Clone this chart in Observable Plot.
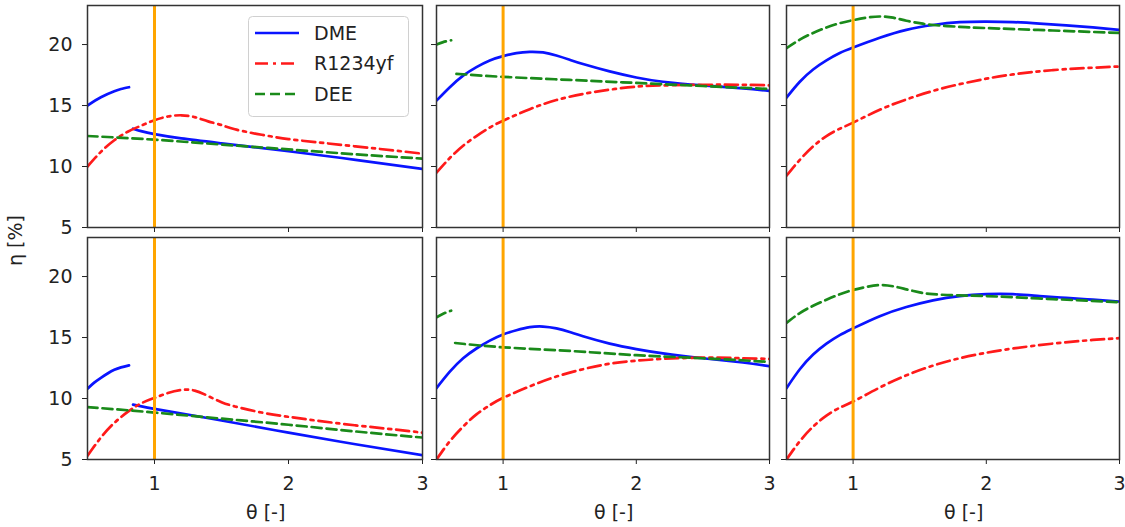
<!DOCTYPE html>
<html><head><meta charset="utf-8">
<script src="https://cdn.jsdelivr.net/npm/d3@7"></script>
<script src="https://cdn.jsdelivr.net/npm/@observablehq/plot@0.6"></script>
<style>
body{margin:0;background:#fff;}
#fig{position:relative;width:1125px;height:527px;overflow:hidden;font-family:"DejaVu Sans",sans-serif;color:#222;background:#fff;}
#fig svg{position:absolute;}
.lab{position:absolute;font-size:19px;white-space:nowrap;line-height:1;}
</style></head><body><div id="fig"></div>
<script>
// ---- data (θ [-], η [%]) ; null breaks a line ----
const seriesNames = ["DME", "R1234yf", "DEE"];
const xTicks = [1, 2, 3];
const yTicks = [5, 10, 15, 20];
const refTheta = [1];

// top row
const dmeA = [[0.5,15.0],[0.6,15.68],[0.7,16.17],[0.75,16.35],[0.81,16.5],[0.82,null],[0.84,13.1],[0.9,12.9],[1.0,12.65],[1.2,12.3],[1.5,11.9],[2.0,11.25],[2.5,10.55],[3.0,9.8]];
const r1234yfA = [[0.5,10.0],[0.6,11.2],[0.7,12.15],[0.8,12.85],[0.9,13.35],[1.0,13.8],[1.1,14.1],[1.2,14.2],[1.3,14.05],[1.4,13.7],[1.5,13.4],[1.6,13.05],[1.8,12.6],[2.0,12.25],[2.2,12.0],[2.5,11.65],[2.8,11.3],[3.0,11.05]];
const deeA = [[0.5,12.5],[1.0,12.2],[1.5,11.8],[2.0,11.4],[2.5,11.0],[3.0,10.65]];

const dmeB = [[0.5,15.4],[0.6,16.5],[0.7,17.45],[0.8,18.15],[0.9,18.7],[1.0,19.05],[1.1,19.3],[1.2,19.4],[1.3,19.35],[1.4,19.1],[1.5,18.75],[1.6,18.4],[1.8,17.8],[2.0,17.3],[2.2,16.95],[2.5,16.65],[2.8,16.4],[3.0,16.2]];
const r1234yfB = [[0.5,9.5],[0.6,10.7],[0.7,11.7],[0.8,12.5],[0.9,13.2],[1.0,13.75],[1.2,14.7],[1.4,15.45],[1.6,15.95],[1.8,16.3],[2.0,16.55],[2.2,16.65],[2.5,16.7],[2.8,16.7],[3.0,16.65]];
const deeB = [[0.5,20.0],[0.55,20.2],[0.61,20.35],[0.63,null],[0.65,17.6],[1.0,17.35],[1.5,17.1],[2.0,16.85],[2.5,16.6],[3.0,16.35]];

const dmeC = [[0.5,15.65],[0.6,16.95],[0.7,17.95],[0.8,18.7],[0.9,19.3],[1.0,19.75],[1.2,20.55],[1.4,21.2],[1.6,21.6],[1.8,21.83],[2.0,21.88],[2.2,21.84],[2.4,21.72],[2.6,21.57],[2.8,21.4],[3.0,21.2]];
const r1234yfC = [[0.5,9.25],[0.6,10.55],[0.7,11.65],[0.8,12.5],[0.9,13.1],[1.0,13.6],[1.2,14.65],[1.4,15.5],[1.6,16.2],[1.8,16.75],[2.0,17.2],[2.2,17.55],[2.5,17.9],[2.8,18.1],[3.0,18.2]];
const deeC = [[0.5,19.7],[0.6,20.4],[0.7,20.95],[0.8,21.4],[0.9,21.75],[1.0,22.0],[1.1,22.2],[1.2,22.3],[1.3,22.2],[1.4,21.95],[1.5,21.75],[1.6,21.6],[1.8,21.45],[2.0,21.35],[2.5,21.15],[3.0,20.95]];

// bottom row
const dmeD = [[0.5,10.8],[0.55,11.3],[0.6,11.7],[0.65,12.05],[0.7,12.35],[0.75,12.55],[0.81,12.72],[0.82,null],[0.84,9.5],[1.0,9.15],[1.5,8.2],[2.0,7.2],[2.5,6.25],[3.0,5.35]];
const r1234yfD = [[0.5,5.3],[0.6,6.8],[0.7,8.0],[0.8,8.9],[0.9,9.6],[1.0,10.05],[1.1,10.45],[1.2,10.7],[1.3,10.65],[1.4,10.2],[1.5,9.7],[1.6,9.35],[1.8,8.85],[2.0,8.5],[2.2,8.2],[2.5,7.8],[2.8,7.45],[3.0,7.2]];
const deeD = [[0.5,9.3],[1.0,8.85],[1.5,8.35],[2.0,7.85],[2.5,7.3],[3.0,6.8]];

const dmeE = [[0.5,10.85],[0.6,12.2],[0.7,13.3],[0.8,14.1],[0.9,14.75],[1.0,15.25],[1.1,15.6],[1.2,15.85],[1.3,15.9],[1.4,15.75],[1.5,15.45],[1.6,15.1],[1.8,14.5],[2.0,14.05],[2.2,13.7],[2.5,13.3],[2.8,12.95],[3.0,12.65]];
const r1234yfE = [[0.5,5.0],[0.6,6.5],[0.7,7.7],[0.8,8.7],[0.9,9.45],[1.0,10.05],[1.2,11.0],[1.4,11.8],[1.6,12.4],[1.8,12.85],[2.0,13.1],[2.2,13.25],[2.5,13.35],[2.8,13.3],[3.0,13.25]];
const deeE = [[0.5,16.65],[0.55,16.95],[0.61,17.2],[0.63,null],[0.64,14.55],[1.0,14.2],[1.5,13.9],[2.0,13.55],[2.5,13.3],[3.0,13.0]];

const dmeF = [[0.5,10.85],[0.6,12.4],[0.7,13.6],[0.8,14.5],[0.9,15.2],[1.0,15.75],[1.2,16.75],[1.4,17.5],[1.6,18.05],[1.8,18.4],[2.0,18.55],[2.2,18.55],[2.4,18.4],[2.6,18.25],[2.8,18.1],[3.0,17.95]];
const r1234yfF = [[0.5,5.0],[0.6,6.5],[0.7,7.7],[0.8,8.6],[0.9,9.25],[1.0,9.75],[1.2,10.9],[1.4,11.9],[1.6,12.7],[1.8,13.3],[2.0,13.75],[2.2,14.1],[2.5,14.5],[2.8,14.8],[3.0,14.95]];
const deeF = [[0.5,16.2],[0.6,17.0],[0.7,17.6],[0.8,18.1],[0.9,18.55],[1.0,18.9],[1.1,19.15],[1.2,19.3],[1.3,19.2],[1.4,18.95],[1.5,18.7],[1.6,18.55],[1.8,18.45],[2.0,18.4],[2.5,18.15],[3.0,17.9]];

// ---- layout & styles ----
const panels = [
  {r:0,c:0,s:[dmeA,r1234yfA,deeA]},{r:0,c:1,s:[dmeB,r1234yfB,deeB]},{r:0,c:2,s:[dmeC,r1234yfC,deeC]},
  {r:1,c:0,s:[dmeD,r1234yfD,deeD]},{r:1,c:1,s:[dmeE,r1234yfE,deeE]},{r:1,c:2,s:[dmeF,r1234yfF,deeF]}
];
const styles = [
  {stroke:"#0a14ff", dash:null},
  {stroke:"#ff1a1a", dash:"13,5,3,5"},
  {stroke:"#1a8a1a", dash:"10,5"}
];
const colL = [87, 436, 786], colW = [335, 333, 333];
const rowT = [5, 237], rowH = 222;
const fig = document.getElementById("fig");

for (const p of panels) {
  const mL = p.c === 0 ? 87 : 10, mR = 6, mT = 5, mB = p.r === 1 ? 69 : 8;
  const W = colW[p.c];
  const marks = [];
  p.s.forEach((data, i) => {
    marks.push(Plot.line(data, {x: d => d[0], y: d => d[1], stroke: styles[i].stroke, strokeWidth: 2.7,
      strokeDasharray: styles[i].dash, curve: "natural", clip: true}));
  });
  marks.push(Plot.ruleX(refTheta, {stroke: "#ffa500", strokeWidth: 3}));
  marks.push(Plot.frame({stroke: "#333", strokeWidth: 1.5}));
  const svg = Plot.plot({
    width: W + mL + mR, height: rowH + mT + mB,
    marginLeft: mL, marginRight: mR, marginTop: mT, marginBottom: mB,
    style: {background: "transparent", fontSize: "19px", fontFamily: "DejaVu Sans, sans-serif", color: "#222", overflow: "visible"},
    x: {domain: [0.5, 3], ticks: xTicks, tickSize: 5, tickPadding: 12, label: null,
        tickFormat: p.r === 1 ? (d => String(d)) : (() => "")},
    y: {domain: [5, 23.2], ticks: yTicks, tickSize: 5, tickPadding: 10, label: null,
        tickFormat: p.c === 0 ? (d => String(d)) : (() => "")},
    marks
  });
  svg.style.left = (colL[p.c] - mL) + "px";
  svg.style.top = (rowT[p.r] - mT) + "px";
  fig.appendChild(svg);
}

// x labels
for (let c = 0; c < 3; c++) {
  const d = document.createElement("div");
  d.className = "lab";
  d.textContent = "θ [-]";
  fig.appendChild(d);
  const w = d.offsetWidth;
  d.style.left = (colL[c] + colW[c] / 2 + 11 - w / 2) + "px";
  d.style.top = "503px";
}
// y label
{
  const d = document.createElement("div");
  d.className = "lab";
  d.textContent = "η [%]";
  fig.appendChild(d);
  const w = d.offsetWidth, h = d.offsetHeight;
  d.style.left = (15 - w / 2) + "px";
  d.style.top = (240 - h / 2) + "px";
  d.style.transform = "rotate(-90deg)";
}
// legend
{
  const lg = d3.select(fig).append("svg")
    .attr("width", 161).attr("height", 102)
    .style("left", "248px").style("top", "16px");
  lg.append("rect").attr("x", 0.5).attr("y", 0.5).attr("width", 160).attr("height", 100)
    .attr("rx", 4).attr("fill", "rgba(255,255,255,0.85)").attr("stroke", "#d0d0d0");
  seriesNames.forEach((n, i) => {
    const cy = 17 + i * 30.5;
    lg.append("line").attr("x1", 7).attr("x2", 51).attr("y1", cy).attr("y2", cy)
      .attr("stroke", styles[i].stroke).attr("stroke-width", 2.7)
      .attr("stroke-dasharray", styles[i].dash);
    lg.append("text").attr("x", 66).attr("y", cy).attr("dy", "0.36em")
      .attr("font-family", "DejaVu Sans, sans-serif").attr("font-size", 19).attr("fill", "#222")
      .text(n);
  });
}
</script></body></html>
